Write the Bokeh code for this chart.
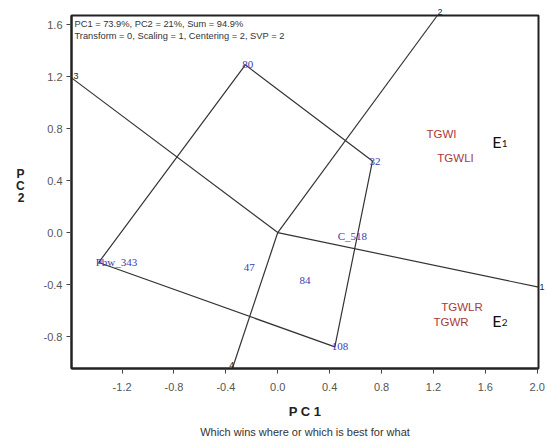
from bokeh.plotting import figure
from bokeh.models import (Range1d, FixedTicker, PrintfTickFormatter, Label, Title,
                          ColumnDataSource, LinearAxis, CustomJSTickFormatter)
from bokeh.core.properties import value
from bokeh.embed import file_html
from bokeh.resources import INLINE

# ---- data ----
genotypes = ["80", "32", "108", "Pbw_343", "C_518", "47", "84"]
gen_x = [-0.25, 0.73, 0.44, -1.38, 0.485, -0.24, 0.19]
gen_y = [1.29, 0.55, -0.88, -0.23, -0.03, -0.27, -0.37]

# convex hull (polygon) vertices, by genotype name
hull = ["80", "32", "108", "Pbw_343", "80"]

environments = ["TGWI", "TGWLI", "TGWLR", "TGWR"]
env_x = [1.146, 1.23, 1.26, 1.20]
env_y = [0.76, 0.577, -0.57, -0.685]

# rays from the origin, perpendicular to hull sides
ray_names = ["1", "2", "3", "4"]
ray_x = [2.01, 1.23, -1.59, -0.35]
ray_y = [-0.42, 1.67, 1.19, -1.046]

mega_env = ["E", "E"]
mega_sub = ["1", "2"]
mega_x = [1.654, 1.654]
mega_y = [0.70, -0.68]

x_ticks = [-1.2, -0.8, -0.4, 0.0, 0.4, 0.8, 1.2, 1.6, 2.0]
y_ticks = [-0.8, -0.4, 0.0, 0.4, 0.8, 1.2, 1.6]

FONT = "Liberation Sans"

p = figure(width=547, height=442, output_backend="svg", toolbar_location=None,
           x_range=Range1d(-1.59, 2.01), y_range=Range1d(-1.046, 1.67),
           min_border_left=71, min_border_right=8, min_border_top=15, min_border_bottom=74)
p.background_fill_color = "white"
p.border_fill_color = "white"
p.xgrid.visible = False
p.ygrid.visible = False
p.outline_line_color = "#222222"
p.outline_line_width = 2

for ax in (p.xaxis[0], p.yaxis[0]):
    ax.axis_line_color = "#222222"
    ax.axis_line_width = 2
    ax.major_tick_in = 0
    ax.major_tick_out = 5
    ax.major_tick_line_color = "#444444"
    ax.minor_tick_line_color = None
    ax.major_label_text_font = FONT
    ax.major_label_text_font_size = "11px"
    ax.major_label_text_color = "#555555"
    ax.formatter = PrintfTickFormatter(format="%.1f")
    ax.axis_label_text_font = FONT
    ax.axis_label_text_font_style = "bold"
    ax.axis_label_text_color = "#222222"

p.xaxis.ticker = FixedTicker(ticks=x_ticks)
p.yaxis.ticker = FixedTicker(ticks=y_ticks)
p.xaxis.major_label_standoff = 9
p.yaxis.major_label_standoff = 4
p.xaxis.axis_label = "P C 1"
p.xaxis.axis_label_text_font_size = "13px"
p.xaxis.axis_label_standoff = 10
p.yaxis.axis_label = "P\nC\n2\n "
p.yaxis.axis_label_text_font_size = "12px"
p.yaxis.axis_label_orientation = "horizontal"
p.yaxis.axis_label_standoff = 16
p.yaxis.axis_label_text_line_height = 0.85

p.add_layout(Title(text="Which wins where or which is best for what", align="center",
                   text_font=FONT, text_font_size="11px", text_font_style="normal",
                   text_color="#333333", standoff=5), "below")

# polygon
gpos = dict(zip(genotypes, zip(gen_x, gen_y)))
hx = [gpos[g][0] for g in hull]
hy = [gpos[g][1] for g in hull]
p.line(hx, hy, line_color="#333333", line_width=1.2)

# rays
for rx, ry in zip(ray_x, ray_y):
    p.line([0, rx], [0, ry], line_color="#333333", line_width=1.2)

# genotype labels
gsrc = ColumnDataSource(dict(x=gen_x, y=gen_y, t=genotypes))
p.text(x="x", y="y", text="t", source=gsrc, text_font=value("Liberation Serif"),
       text_font_size="11px", text_color="#3b3bb0", text_align="left",
       text_baseline="middle", x_offset=-3)

# environment labels
esrc = ColumnDataSource(dict(x=env_x, y=env_y, t=environments))
p.text(x="x", y="y", text="t", source=esrc, text_font=value(FONT),
       text_font_size="11.5px", text_color="#a83a3a", text_align="left",
       text_baseline="middle")

# mega-environment labels
msrc = ColumnDataSource(dict(x=mega_x, y=mega_y, t=mega_env, s=mega_sub))
p.text(x="x", y="y", text="t", source=msrc, text_font=value("Lato"),
       text_font_size="16px", text_color="#111111", text_align="left",
       text_baseline="alphabetic")
p.text(x="x", y="y", text="s", source=msrc, text_font=value("Lato"),
       text_font_size="10px", text_color="#111111", text_align="left",
       text_baseline="alphabetic", x_offset=9.5, y_offset=2)

# ray end labels inside the frame (3 and 4)
ray_off = {"3": (2, 2), "4": (-3, 4)}
for n, rx, ry in zip(ray_names, ray_x, ray_y):
    if n in ray_off:
        ox, oy = ray_off[n]
        p.add_layout(Label(x=rx, y=ry, text=n, x_offset=ox, y_offset=oy,
                           text_font=FONT, text_font_size="9px", text_color="#222222",
                           text_align="left", text_baseline="middle"))

# ray end labels outside the frame (1 on the right, 2 on top), drawn as bare axes
def ray_axis(tick, label):
    ax = LinearAxis(ticker=FixedTicker(ticks=[tick]),
                    formatter=CustomJSTickFormatter(code="return '%s';" % label))
    ax.axis_line_color = None
    ax.major_tick_line_color = None
    ax.minor_tick_line_color = None
    ax.major_tick_out = 0
    ax.major_tick_in = 0
    ax.major_label_standoff = 1
    ax.major_label_text_font = FONT
    ax.major_label_text_font_size = "9px"
    ax.major_label_text_color = "#222222"
    return ax

p.add_layout(ray_axis(ray_y[0], ray_names[0]), "right")
p.add_layout(ray_axis(ray_x[1] + 0.02, ray_names[1]), "above")

# top-left info
p.add_layout(Label(x=-1.59, y=1.67, text="PC1 = 73.9%, PC2 = 21%, Sum = 94.9%",
                   x_offset=3, y_offset=-8, text_font=FONT, text_font_size="9.3px",
                   text_color="#333333", text_baseline="middle"))
p.add_layout(Label(x=-1.59, y=1.67, text="Transform = 0, Scaling = 1, Centering = 2, SVP = 2",
                   x_offset=3, y_offset=-20, text_font=FONT, text_font_size="9.3px",
                   text_color="#333333", text_baseline="middle"))

open("out.html", "w").write(file_html(p, INLINE))
